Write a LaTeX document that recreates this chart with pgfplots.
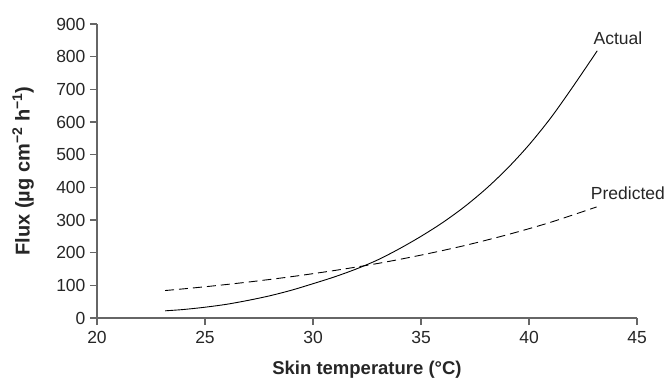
\documentclass[border=0pt]{standalone}
\usepackage{pgfplots}
\pgfplotsset{compat=1.18}
\usepackage{fontspec}
\setmainfont{Liberation Sans}
\begin{document}
\begin{tikzpicture}
\begin{axis}[
  at={(0pt,0pt)}, anchor=origin,
  scale only axis, width=540pt, height=294pt,
  xmin=20, xmax=45, ymin=0, ymax=900,
  xtick={20,25,...,45}, ytick={0,100,...,900},
  axis x line*=bottom, axis y line*=left,
  axis line style={draw=black!60, line width=1.6pt, -},
  tick style={draw=black!60, line width=1.2pt},
  tick align=outside, major tick length=7pt,
  /pgf/number format/assume math mode=true,
  tick label style={font=\fontsize{17.5}{19}\selectfont, text=black!85},
  xticklabel style={yshift=-3pt},
  yticklabel style={xshift=-1pt},
  xlabel={Skin temperature (°C)},
  ylabel={Flux (µg cm\textsuperscript{\textminus2} h\textsuperscript{\textminus1})},
  every axis x label/.style={at={(axis description cs:0.5,-0.177)}, anchor=center, font=\bfseries\fontsize{18.5}{20}\selectfont, text=black!85},
  every axis y label/.style={at={(axis description cs:-0.137,0.5)}, rotate=90, anchor=center, font=\bfseries\fontsize{20}{22}\selectfont, text=black!85},
  clip=false,
]
\addplot[black, line width=0.9pt, smooth] coordinates {
(23.15,22) (24,26) (25,33) (26,42) (27,54) (28,68) (29,85) (30,105) (31,126) (32,150)
(33,178) (34,212) (35,250) (36,292) (37,340) (38,395) (39,458) (40,530) (41,612) (42,705) (43.16,818)
};
\addplot[black, line width=0.9pt, dash pattern=on 9pt off 5pt, smooth] coordinates {
(23.15,84) (25,95.6) (27,110) (29,126.5) (31,145.5) (33,167) (35,192.5) (37,221.5) (39,255) (41,293) (43.13,340)
};
\node[font=\fontsize{17.5}{19}\selectfont, text=black!85] at (axis cs:44.12,857) {Actual};
\node[font=\fontsize{17.5}{19}\selectfont, text=black!85] at (axis cs:44.58,383) {Predicted};
\end{axis}
\pgfresetboundingbox
\path[use as bounding box] (-97pt,-62pt) rectangle (571pt,318pt);
\end{tikzpicture}
\end{document}
